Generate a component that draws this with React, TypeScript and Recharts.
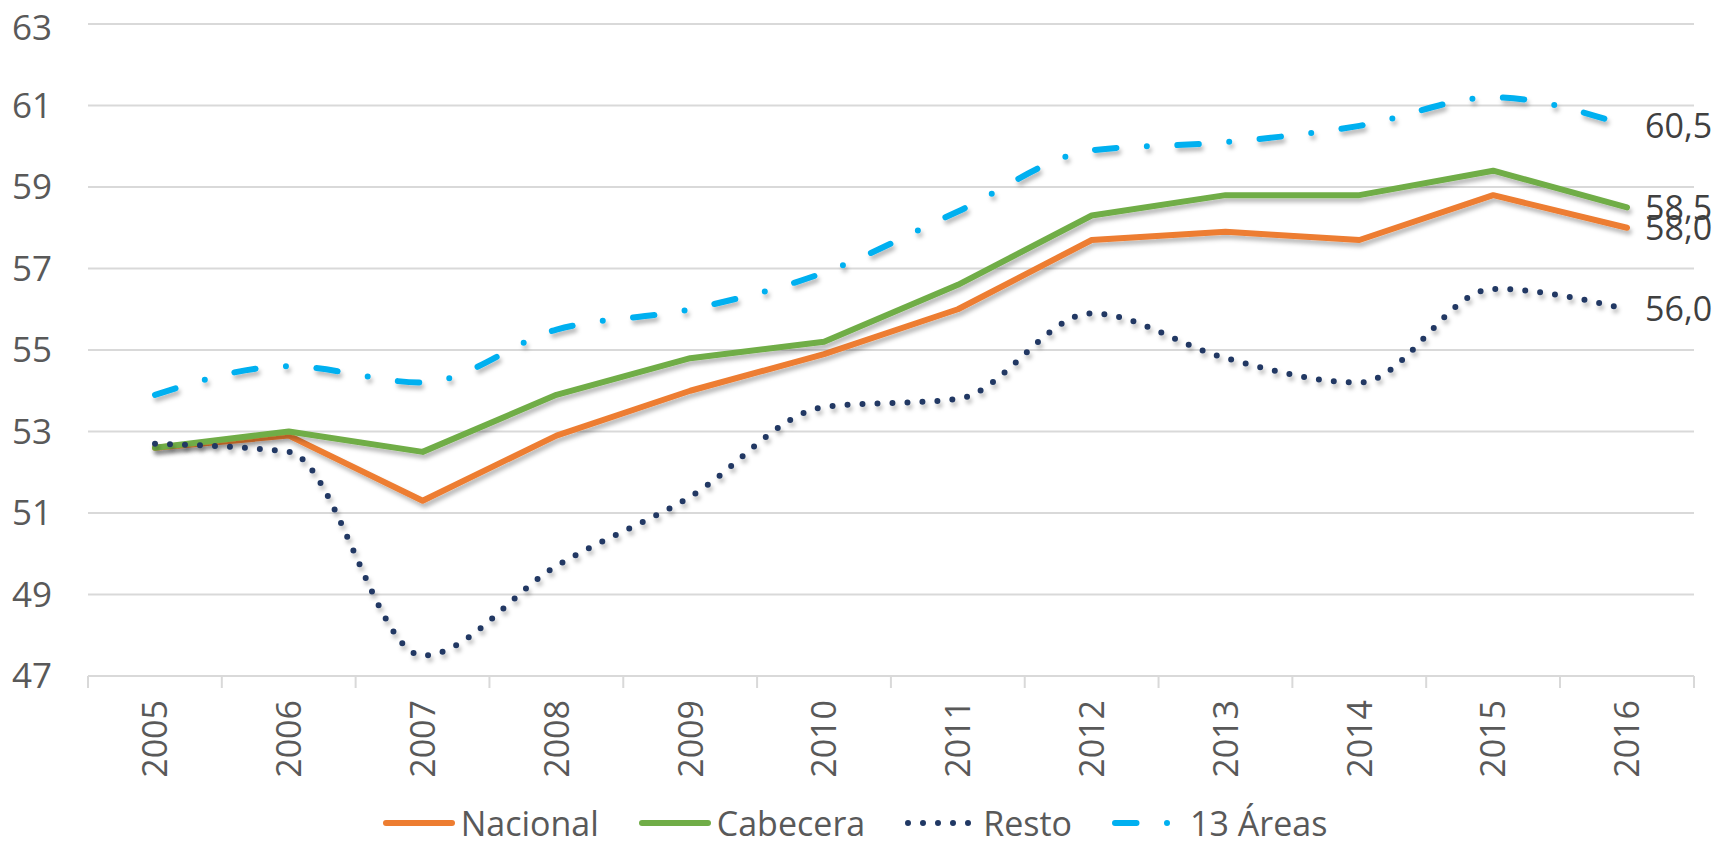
import React from 'react';
import { LineChart, Line, XAxis, YAxis, CartesianGrid, Legend, LabelList } from 'recharts';

const years = ['2005', '2006', '2007', '2008', '2009', '2010', '2011', '2012', '2013', '2014', '2015', '2016'];
const nacional = [52.6, 52.9, 51.3, 52.9, 54.0, 54.9, 56.0, 57.7, 57.9, 57.7, 58.8, 58.0];
const cabecera = [52.6, 53.0, 52.5, 53.9, 54.8, 55.2, 56.6, 58.3, 58.8, 58.8, 59.4, 58.5];
const resto = [52.7, 52.5, 47.5, 49.7, 51.4, 53.6, 53.8, 55.9, 54.8, 54.2, 56.5, 56.0];
const areas13 = [53.9, 54.6, 54.2, 55.5, 56.0, 56.9, 58.4, 59.9, 60.1, 60.5, 61.2, 60.5];
const yTicks = [47, 49, 51, 53, 55, 57, 59, 61, 63];

const data = years.map((year, i) => ({
  year,
  nacional: nacional[i],
  cabecera: cabecera[i],
  resto: resto[i],
  areas13: areas13[i],
}));

const FONT = '"Open Sans", sans-serif';
const HALF_BAND = 67; // Excel puts the points in the middle of each category slot
const TICK_GAP = 24;

// how each series is stroked, used by the lines and by the legend samples
const series = [
  { key: 'nacional', name: 'Nacional', color: '#ED7D31', dash: undefined, type: 'linear' },
  { key: 'cabecera', name: 'Cabecera', color: '#70AD47', dash: undefined, type: 'linear' },
  { key: 'resto', name: 'Resto', color: '#203864', dash: '0 15', type: 'monotone' },
  { key: 'areas13', name: '13 Áreas', color: '#00B0F0', dash: '21.5 30.5 0 30.5', type: 'monotone' },
] as const;

const YearTick = (props: any) => {
  const { x, y, payload, index } = props;
  const top = y - TICK_GAP;
  return (
    <g>
      {/* category separators hang below the axis, between the years */}
      <line x1={x - HALF_BAND} x2={x - HALF_BAND} y1={top} y2={top + 12} stroke="#D9D9D9" strokeWidth={2} />
      {index === years.length - 1 && (
        <line x1={x + HALF_BAND} x2={x + HALF_BAND} y1={top} y2={top + 12} stroke="#D9D9D9" strokeWidth={2} />
      )}
      <text
        x={x}
        y={y}
        transform={`rotate(-90, ${x}, ${y})`}
        textAnchor="end"
        dy="0.36em"
        fontFamily={FONT}
        fontSize={34}
        fill="#595959"
      >
        {payload.value}
      </text>
    </g>
  );
};

const lastLabel = (props: any) => {
  const { x, y, value, index } = props;
  if (index !== years.length - 1) return null;
  return (
    <text x={x + 18} y={y} dy="0.36em" fontFamily={FONT} fontSize={34} fill="#404040">
      {Number(value).toFixed(1).replace('.', ',')}
    </text>
  );
};

const LegendContent = () => (
  <div
    style={{
      display: 'flex',
      justifyContent: 'center',
      alignItems: 'center',
      paddingTop: 18,
      paddingLeft: 8,
      fontFamily: FONT,
      fontSize: 34,
      color: '#595959',
    }}
  >
    {series.map((s, i) => (
      <div
        key={s.key}
        style={{ display: 'flex', alignItems: 'center', marginRight: i === series.length - 1 ? 0 : 40 }}
      >
        <svg width={72} height={12} style={{ marginRight: 6 }}>
          <line
            x1={3}
            x2={69}
            y1={6}
            y2={6}
            stroke={s.color}
            strokeWidth={6}
            strokeLinecap="round"
            strokeDasharray={s.dash}
          />
        </svg>
        <span style={{ lineHeight: '36px' }}>{s.name}</span>
      </div>
    ))}
  </div>
);

export default function App() {
  return (
    <LineChart
      width={1717}
      height={839}
      data={data}
      margin={{ top: 16, right: 31, bottom: 0, left: 0 }}
      style={{ overflow: 'visible' }}
    >
      <defs>
        <filter id="shadow" x="-5%" y="-20%" width="110%" height="140%">
          <feDropShadow dx="2" dy="4" stdDeviation="2" floodColor="#000" floodOpacity="0.28" />
        </filter>
      </defs>
      <CartesianGrid vertical={false} stroke="#D9D9D9" strokeWidth={2} />
      <XAxis
        dataKey="year"
        padding={{ left: HALF_BAND, right: HALF_BAND }}
        axisLine={{ stroke: '#D9D9D9', strokeWidth: 2 }}
        tickLine={false}
        tickSize={0}
        tickMargin={TICK_GAP}
        height={111}
        interval={0}
        tick={<YearTick />}
      />
      <YAxis
        domain={[47, 63]}
        ticks={yTicks}
        width={80}
        axisLine={false}
        tickLine={false}
        tickSize={0}
        tickMargin={36}
        tick={{ fontFamily: FONT, fontSize: 35, fill: '#595959' }}
      />
      <Legend verticalAlign="bottom" height={60} content={<LegendContent />} />
      {series.map((s) => (
        <Line
          key={s.key}
          type={s.type}
          dataKey={s.key}
          name={s.name}
          stroke={s.color}
          strokeWidth={6}
          strokeLinecap="round"
          strokeLinejoin="round"
          strokeDasharray={s.dash}
          dot={false}
          activeDot={false}
          filter="url(#shadow)"
          isAnimationActive={false}
        >
          <LabelList dataKey={s.key} content={lastLabel} />
        </Line>
      ))}
    </LineChart>
  );
}
